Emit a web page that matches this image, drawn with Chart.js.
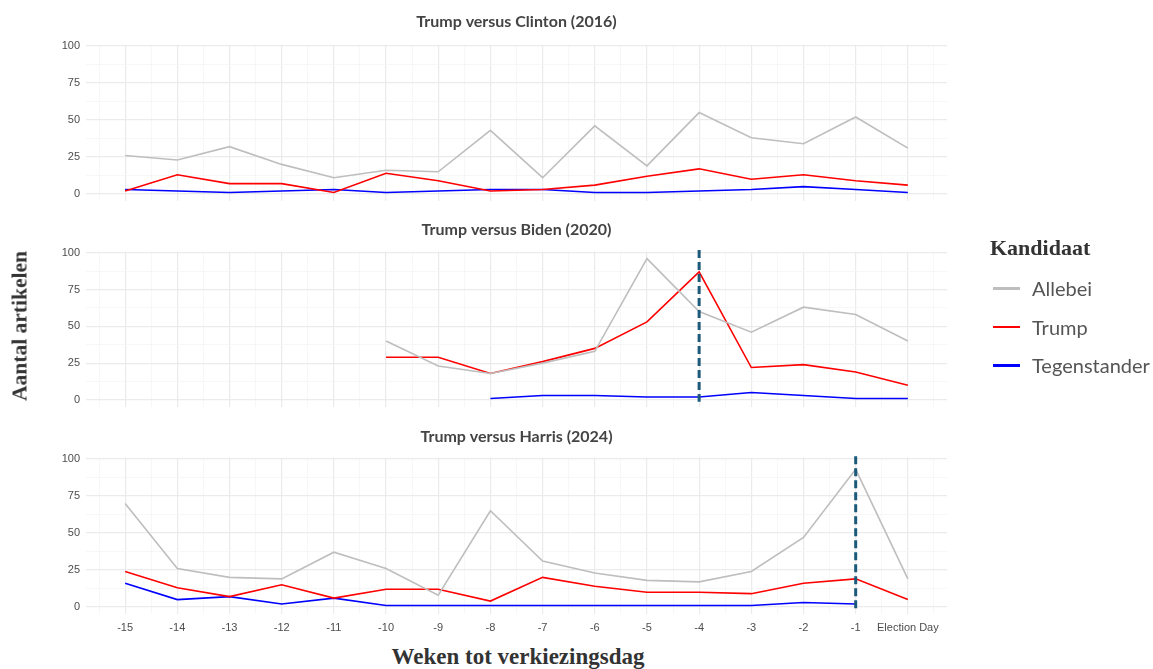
<!DOCTYPE html>
<html>
<head>
<meta charset="utf-8">
<script src="https://cdn.jsdelivr.net/npm/chart.js@4"></script>
<style>
  body { margin: 0; background: #fff; width: 1153px; height: 669px; position: relative; overflow: hidden; }
  .panel { position: absolute; left: 0; }
  .axisTitle { position: absolute; font-family: "Liberation Serif", serif; font-weight: bold; color: #333; white-space: nowrap; }
  #legend { position: absolute; left: 990px; top: 235px; font-family: Lato, sans-serif; color: #555; }
  #legend .legendTitle { font-family: "Liberation Serif", serif; font-weight: bold; font-size: 22px; color: #333; margin-bottom: 8px; }
  #legend .item { display: flex; align-items: center; height: 38.5px; font-size: 20px; }
  #legend .swatch { width: 27px; height: 2.5px; margin: 0 12px 0 3px; }
</style>
</head>
<body>
<div class="panel" id="panelDiv0" style="top:0px"><canvas id="panel0"></canvas></div>
<div class="panel" id="panelDiv1" style="top:208px"><canvas id="panel1"></canvas></div>
<div class="panel" id="panelDiv2" style="top:416px"><canvas id="panel2"></canvas></div>
<div class="axisTitle" id="yTitle" style="font-size:21.5px; left:20px; top:326px; transform: translate(-50%,-50%) rotate(-90deg);">Aantal artikelen</div>
<div class="axisTitle" id="xTitle" style="font-size:23px; left:518px; top:657px; transform: translate(-50%,-50%);">Weken tot verkiezingsdag</div>
<div id="legend"></div>

<script>
// weeks before election day (0 = Election Day)
const weeks = [-15, -14, -13, -12, -11, -10, -9, -8, -7, -6, -5, -4, -3, -2, -1, 0];
const weekLabels = ['-15', '-14', '-13', '-12', '-11', '-10', '-9', '-8', '-7', '-6', '-5', '-4', '-3', '-2', '-1', 'Election Day'];
const yTicks = [0, 25, 50, 75, 100];

const seriesNames = ['Allebei', 'Trump', 'Tegenstander'];
const seriesColors = ['#bebebe', '#ff0000', '#0000ff'];

const panelTitles = ['Trump versus Clinton (2016)', 'Trump versus Biden (2020)', 'Trump versus Harris (2024)'];
const markerWeeks = [null, -4, -1]; // dashed line per panel

// 2016
const allebei2016 = [26, 23, 32, 20, 11, 16, 15, 43, 11, 46, 19, 55, 38, 34, 52, 31];
const trump2016 = [2, 13, 7, 7, 1, 14, 9, 2, 3, 6, 12, 17, 10, 13, 9, 6];
const tegen2016 = [3, 2, 1, 2, 3, 1, 2, 3, 3, 1, 1, 2, 3, 5, 3, 1];
// 2020
const allebei2020 = [null, null, null, null, null, 40, 23, 18, 25, 33, 96, 60, 46, 63, 58, 40];
const trump2020 = [null, null, null, null, null, 29, 29, 18, 26, 35, 53, 87, 22, 24, 19, 10];
const tegen2020 = [null, null, null, null, null, null, null, 1, 3, 3, 2, 2, 5, 3, 1, 1];
// 2024
const allebei2024 = [70, 26, 20, 19, 37, 26, 8, 65, 31, 23, 18, 17, 24, 47, 93, 19];
const trump2024 = [24, 13, 7, 15, 6, 12, 12, 4, 20, 14, 10, 10, 9, 16, 19, 5];
const tegen2024 = [16, 5, 7, 2, 6, 1, 1, 1, 1, 1, 1, 1, 1, 3, 2, null];

const panelSeries = [
    [allebei2016, trump2016, tegen2016],
    [allebei2020, trump2020, tegen2020],
    [allebei2024, trump2024, tegen2024]
];

// layout of the three facets: canvas height, padding round the plot area, title centre, x axis height
// (bottom padding can't go below ~12.6 without an x axis, chart.js keeps room for the "0" label)
const panelLayout = [
    { height: 214, padTop: 44.8, padBottom: 12.9, titleY: 22, xHeight: 0 },
    { height: 212, padTop: 43.5, padBottom: 13, titleY: 22, xHeight: 0 },
    { height: 224, padTop: 41.8, padBottom: 5.9, titleY: 21, xHeight: 20 }
];

// facet title, centred over the plot area
const panelTitlePlugin = {
    id: 'panelTitle',
    afterDraw(chart, args, opts) {
        const area = chart.chartArea;
        const ctx = chart.ctx;
        ctx.save();
        ctx.fillStyle = '#444';
        ctx.font = 'bold 16px Lato';
        ctx.textAlign = 'center';
        ctx.textBaseline = 'middle';
        ctx.fillText(opts.text, (area.left + area.right) / 2, opts.y);
        ctx.restore();
    }
};

// dashed vertical line at the peak week
const markerPlugin = {
    id: 'weekMarker',
    afterDatasetsDraw(chart, args, opts) {
        if (opts.week === null || opts.week === undefined) return;
        const x = chart.scales.x.getPixelForValue(opts.week);
        const yTop = chart.scales.y.getPixelForValue(101.8);
        const yBottom = chart.scales.y.getPixelForValue(-1.2);
        const ctx = chart.ctx;
        ctx.save();
        ctx.strokeStyle = '#1d5a7a';
        ctx.lineWidth = 3;
        ctx.setLineDash([8, 4]);
        ctx.beginPath();
        ctx.moveTo(x, yTop);
        ctx.lineTo(x, yBottom);
        ctx.stroke();
        ctx.restore();
    }
};

function makePanel(i) {
    const layout = panelLayout[i];
    const canvas = document.getElementById('panel' + i);
    canvas.width = 1153;
    canvas.height = layout.height;
    document.getElementById('panelDiv' + i).style.height = layout.height + 'px';
    const isBottom = i === 2;

    const datasets = panelSeries[i].map((values, s) => ({
        label: seriesNames[s],
        data: weeks.map((w, k) => ({ x: w, y: values[k] })),
        borderColor: seriesColors[s],
        backgroundColor: seriesColors[s],
        borderWidth: 1.6,
        pointRadius: 0,
        tension: 0,
        spanGaps: false
    }));

    return new Chart(canvas.getContext('2d'), {
        type: 'line',
        data: { datasets: datasets },
        plugins: [markerPlugin, panelTitlePlugin],
        options: {
            responsive: false,
            animation: false,
            layout: { padding: { left: 0, right: 206, top: layout.padTop, bottom: layout.padBottom } },
            plugins: {
                legend: { display: false },
                title: { display: false },
                tooltip: { enabled: false },
                panelTitle: { text: panelTitles[i], y: layout.titleY },
                weekMarker: { week: markerWeeks[i] }
            },
            scales: {
                x: {
                    type: 'linear',
                    min: -15.75,
                    max: 0.75,
                    afterBuildTicks: (scale) => {
                        const t = [];
                        for (let v = -15.5; v <= 0.5; v += 0.5) t.push({ value: v });
                        scale.ticks = t;
                    },
                    afterFit: (scale) => { scale.height = layout.xHeight; },
                    border: { display: false },
                    grid: {
                        drawTicks: false,
                        color: (c) => Number.isInteger(c.tick.value) ? '#ebebeb' : '#f5f5f5',
                        lineWidth: (c) => Number.isInteger(c.tick.value) ? 1.2 : 0.8
                    },
                    ticks: {
                        display: isBottom,
                        autoSkip: false,
                        maxRotation: 0,
                        padding: 7,
                        color: '#4d4d4d',
                        font: { family: 'Liberation Sans', size: 11 },
                        callback: (v) => {
                            const k = weeks.indexOf(v);
                            return k >= 0 ? weekLabels[k] : '';
                        }
                    }
                },
                y: {
                    min: -4.8,
                    max: 100.8,
                    afterBuildTicks: (scale) => {
                        const t = [];
                        yTicks.forEach((v, k) => {
                            t.push({ value: v });
                            if (k < yTicks.length - 1) t.push({ value: (v + yTicks[k + 1]) / 2 });
                        });
                        scale.ticks = t;
                    },
                    afterFit: (scale) => { scale.width = 86; },
                    border: { display: false },
                    grid: {
                        drawTicks: false,
                        color: (c) => yTicks.includes(c.tick.value) ? '#ebebeb' : '#f5f5f5',
                        lineWidth: (c) => yTicks.includes(c.tick.value) ? 1.2 : 0.8
                    },
                    ticks: {
                        padding: 6,
                        color: '#4d4d4d',
                        font: { family: 'Liberation Sans', size: 11 },
                        callback: (v) => yTicks.includes(v) ? String(v) : ''
                    }
                }
            }
        }
    });
}

const charts = [0, 1, 2].map(makePanel);

// legend built from the series names and colours
const legendDiv = document.getElementById('legend');
const legendTitle = document.createElement('div');
legendTitle.className = 'legendTitle';
legendTitle.textContent = 'Kandidaat';
legendDiv.appendChild(legendTitle);
seriesNames.forEach((name, s) => {
    const item = document.createElement('div');
    item.className = 'item';
    const swatch = document.createElement('span');
    swatch.className = 'swatch';
    swatch.style.background = seriesColors[s];
    const label = document.createElement('span');
    label.textContent = name;
    item.appendChild(swatch);
    item.appendChild(label);
    legendDiv.appendChild(item);
});
</script>
</body>
</html>
